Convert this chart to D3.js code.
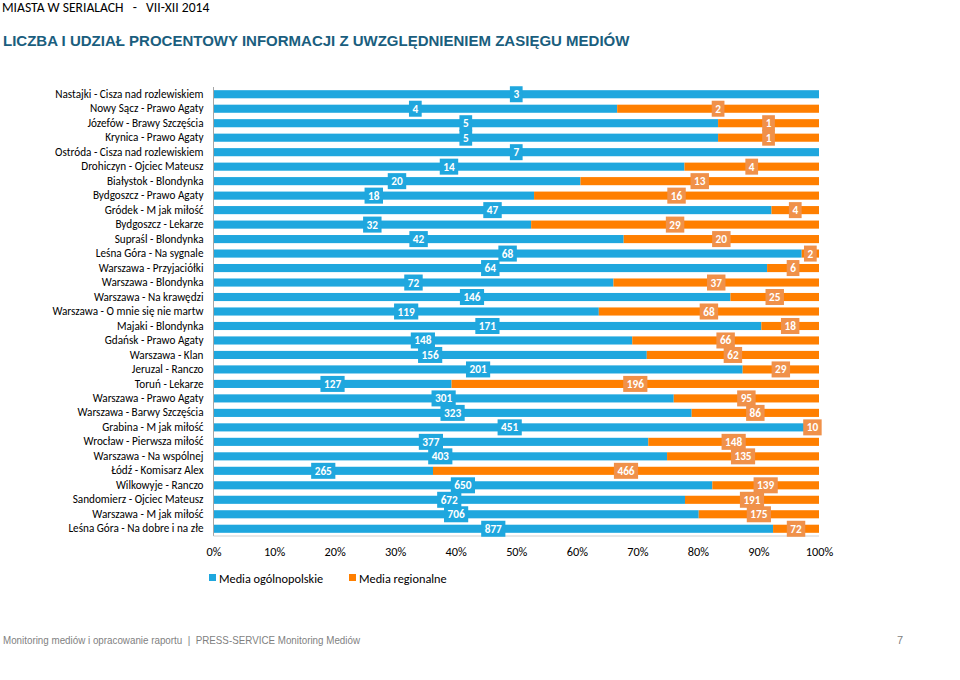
<!DOCTYPE html>
<html><head><meta charset="utf-8">
<script src="https://cdn.jsdelivr.net/npm/d3@7"></script>
<style>
body{margin:0;background:#fff;}
svg{display:block;}
</style></head>
<body>
<svg id="c" width="960" height="680"></svg>
<script>
const categories = [
"Nastajki - Cisza nad rozlewiskiem","Nowy Sącz - Prawo Agaty","Józefów - Brawy Szczęścia","Krynica - Prawo Agaty",
"Ostróda - Cisza nad rozlewiskiem","Drohiczyn - Ojciec Mateusz","Białystok - Blondynka","Bydgoszcz - Prawo Agaty",
"Gródek - M jak miłość","Bydgoszcz - Lekarze","Supraśl - Blondynka","Leśna Góra - Na sygnale","Warszawa - Przyjaciółki",
"Warszawa - Blondynka","Warszawa - Na krawędzi","Warszawa - O mnie się nie martw","Majaki - Blondynka","Gdańsk - Prawo Agaty",
"Warszawa - Klan","Jeruzal - Ranczo","Toruń - Lekarze","Warszawa - Prawo Agaty","Warszawa - Barwy Szczęścia",
"Grabina - M jak miłość","Wrocław - Pierwsza miłość","Warszawa - Na wspólnej","Łódź - Komisarz Alex","Wilkowyje - Ranczo",
"Sandomierz - Ojciec Mateusz","Warszawa - M jak miłość","Leśna Góra - Na dobre i na złe"];
const nationalValues = [3,4,5,5,7,14,20,18,47,32,42,68,64,72,146,119,171,148,156,201,127,301,323,451,377,403,265,650,672,706,877];
const regionalValues = [0,2,1,1,0,4,13,16,4,29,20,2,6,37,25,68,18,66,62,29,196,95,86,10,148,135,466,139,191,175,72];
const seriesNames = ["Media ogólnopolskie","Media regionalne"];
const tickValues = [0,0.1,0.2,0.3,0.4,0.5,0.6,0.7,0.8,0.9,1];

const colors = {nat:"#1FA7DE", reg:"#FF7F00", regLabel:"#F0914A"};
const svg = d3.select("#c");
const font = "Carlito, Lato, 'Open Sans', sans-serif";

// header
svg.append("text").attr("x",2).attr("y",12).attr("font-family",font).attr("font-size",13.6).attr("fill","#000")
  .style("white-space","pre").text("MIASTA W SERIALACH   -   VII-XII 2014");
svg.append("text").attr("x",3).attr("y",46).attr("font-family","'Liberation Sans', Arial, sans-serif").attr("font-weight","bold")
  .attr("font-size",15).attr("fill","#1A5E7E").text("LICZBA I UDZIAŁ PROCENTOWY INFORMACJI Z UWZGLĘDNIENIEM ZASIĘGU MEDIÓW");

const x0=213.5, x1=819, y0=87, y1=536;
const x = d3.scaleLinear().domain([0,1]).range([x0,x1]);
const y = d3.scaleBand().domain(categories).range([y0,y1]).paddingInner(0.44).paddingOuter(0.22);

const data = categories.map((c,i)=>{const t=nationalValues[i]+regionalValues[i];
  return {c, n:nationalValues[i], r:regionalValues[i], pn:nationalValues[i]/t, pr:regionalValues[i]/t};});

const g = svg.append("g");
// bars
g.selectAll("rect.n").data(data).join("rect").attr("class","n")
  .attr("x",x(0)).attr("y",d=>y(d.c)).attr("width",d=>x(d.pn)-x(0)).attr("height",y.bandwidth()).attr("fill",colors.nat);
g.selectAll("rect.r").data(data.filter(d=>d.r>0)).join("rect").attr("class","r")
  .attr("x",d=>x(d.pn)).attr("y",d=>y(d.c)).attr("width",d=>x(1)-x(d.pn)).attr("height",y.bandwidth()).attr("fill",colors.reg);

// axes lines
svg.append("line").attr("x1",x0).attr("x2",x0).attr("y1",y0).attr("y2",y1).attr("stroke","#A6A6A6").attr("stroke-width",1);
svg.append("line").attr("x1",x0).attr("x2",x1).attr("y1",y1).attr("y2",y1).attr("stroke","#D0D0D0").attr("stroke-width",1);

// category labels
const yAxis = d3.axisLeft(y).tickSize(0).tickPadding(10);
const ya = svg.append("g").attr("transform",`translate(${x0},0)`).call(yAxis);
ya.select(".domain").remove();
ya.selectAll("text").attr("font-family",font).attr("font-size",11.2).attr("fill","#000");

// x axis
const xAxis = d3.axisBottom(x).tickValues(tickValues).tickFormat(d3.format(".0%")).tickSize(0).tickPadding(10);
const xa = svg.append("g").attr("transform",`translate(0,${y1+1})`).call(xAxis);
xa.select(".domain").remove();
xa.selectAll("text").attr("font-family",font).attr("font-size",12.3).attr("fill","#000");

// data labels
function addLabel(cx, cy, txt, bg){
  const t = svg.append("text").attr("x",cx).attr("y",cy).attr("text-anchor","middle").attr("dominant-baseline","central")
    .attr("font-family",font).attr("font-weight","bold").attr("font-size",11.3).attr("fill","#fff").text(txt);
  const w = t.node().getComputedTextLength();
  svg.insert("rect", function(){return t.node();}).attr("x",cx-w/2-3.5).attr("y",cy-8).attr("width",w+7).attr("height",16).attr("fill",bg);
}
data.forEach(d=>{
  const cy = y(d.c)+y.bandwidth()/2;
  addLabel((x(0)+x(d.pn))/2, cy, d.n, colors.nat);
  if(d.r>0) addLabel((x(d.pn)+x(1))/2, cy, d.r, colors.regLabel);
});

// legend
const leg = svg.append("g").attr("transform","translate(209,578)");
[[0,seriesNames[0],colors.nat],[140,seriesNames[1],colors.reg]].forEach(([dx,name,col])=>{
  leg.append("rect").attr("x",dx).attr("y",-4).attr("width",7).attr("height",7).attr("fill",col);
  leg.append("text").attr("x",dx+10).attr("y",0).attr("dominant-baseline","central").attr("font-family",font)
    .attr("font-size",12.3).attr("fill","#000").text(name);
});

// footer
svg.append("text").attr("x",3).attr("y",644).attr("font-family","'Liberation Sans',Arial,sans-serif")
  .attr("font-size",11).attr("fill","#7F7F7F").attr("textLength",357).attr("lengthAdjust","spacingAndGlyphs")
  .style("white-space","pre").text("Monitoring mediów i opracowanie raportu  |  PRESS-SERVICE Monitoring Mediów");
svg.append("text").attr("x",897).attr("y",644).attr("font-family","'Liberation Sans',Arial,sans-serif")
  .attr("font-size",11).attr("fill","#7F7F7F").text("7");
</script>
</body></html>
